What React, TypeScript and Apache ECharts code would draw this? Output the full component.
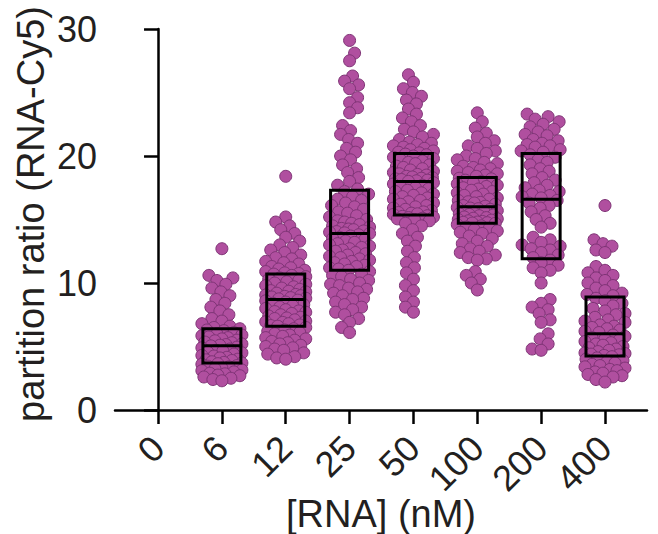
import React, { useEffect, useRef } from 'react';
import * as echarts from 'echarts';

const categories = ['0', '6', '12', '25', '50', '100', '200', '400'];
const yTicks = [0, 10, 20, 30];

const g0: number[] = [];
const g6 = [
  12.7, 10.6, 10.4, 10.2, 9.9, 9.6, 9.3, 9.0, 8.7, 8.4, 8.1, 7.8, 7.5, 7.2, 7.0, 6.8, 6.6, 6.5,
  6.4, 6.3, 6.25, 6.1, 6.0, 5.9, 5.85, 5.75, 5.7, 5.6, 5.5, 5.45, 5.35, 5.3, 5.2, 5.15, 5.1, 5.05,
  4.95, 4.9, 4.8, 4.7, 4.65, 4.55, 4.5, 4.4, 4.3, 4.25, 4.15, 4.1, 4.0, 3.95, 3.9, 3.8, 3.75, 3.7,
  3.65, 3.6, 3.5, 3.45, 3.4, 3.3, 3.25, 3.15, 3.1, 3.0, 2.9, 2.85, 2.75, 2.7, 2.6, 2.5, 2.4, 2.3,
];
const g12 = [
  18.4, 15.2, 14.8, 14.5, 14.2, 13.9, 13.6, 13.3, 13.0, 12.8, 12.6, 12.4, 12.2, 12.0, 11.9, 11.7, 11.6, 11.5, 11.3, 11.2, 11.1, 11.0, 10.9, 10.8, 10.75,
  10.7, 10.6, 10.5, 10.4, 10.3, 10.2, 10.1, 10.0, 9.9, 9.8, 9.7, 9.6, 9.5, 9.4, 9.35, 9.3, 9.2, 9.1, 9.05, 9.0, 8.95, 8.9, 8.85, 8.8, 8.75,
  8.65, 8.6, 8.5, 8.4, 8.3, 8.2, 8.1, 8.0, 7.9, 7.8, 7.75, 7.7, 7.6, 7.5, 7.4, 7.3, 7.25, 7.2, 7.1, 7.0, 6.95, 6.9, 6.8, 6.7, 6.65,
  6.6, 6.5, 6.4, 6.3, 6.2, 6.1, 6.0, 5.9, 5.8, 5.7, 5.6, 5.5, 5.4, 5.3, 5.2, 5.1, 5.0, 4.9, 4.8, 4.7, 4.5, 4.4, 4.2, 4.1, 4.0,
];
const g25 = [
  29.1, 28.1, 27.5, 26.3, 25.9, 25.6, 25.3, 24.6, 24.2, 23.8, 23.4, 22.4, 22.0, 21.7, 21.3, 21.0, 20.6, 20.3, 20.0, 19.7, 19.3, 19.0, 18.7, 18.3, 18.0, 17.7, 17.4,
  17.2, 17.0, 16.8, 16.6, 16.5, 16.3, 16.1, 16.0, 15.8, 15.6, 15.5, 15.3, 15.2, 15.0, 14.9, 14.8, 14.7, 14.6, 14.5, 14.4, 14.3, 14.25, 14.2, 14.1, 14.05, 14.0, 13.95, 13.9,
  13.8, 13.7, 13.6, 13.5, 13.4, 13.3, 13.2, 13.1, 13.0, 12.9, 12.8, 12.7, 12.6, 12.5, 12.4, 12.3, 12.2, 12.1, 12.0, 11.9, 11.8, 11.7, 11.6, 11.5, 11.4, 11.3, 11.2, 11.1,
  11.0, 10.9, 10.7, 10.6, 10.5, 10.3, 10.2, 10.0, 9.9, 9.8, 9.6, 9.5, 9.3, 9.2, 9.0, 8.8, 8.7, 8.5, 8.3, 8.1, 7.9, 7.7, 7.5, 7.2, 6.9, 6.5, 6.1,
];
const g50 = [
  26.4, 25.8, 25.3, 25.0, 24.7, 24.4, 24.1, 23.7, 23.3, 23.0, 22.7, 22.4, 22.1, 21.9, 21.7, 21.5, 21.3, 21.1, 21.0, 20.9, 20.8, 20.7, 20.6, 20.5, 20.4, 20.3, 20.25,
  20.15, 20.1, 20.0, 19.9, 19.8, 19.7, 19.6, 19.5, 19.4, 19.3, 19.2, 19.1, 19.0, 18.9, 18.8, 18.7, 18.6, 18.55, 18.5, 18.4, 18.35, 18.3, 18.25, 18.2, 18.15, 18.1, 18.05, 18.0,
  17.9, 17.8, 17.7, 17.6, 17.5, 17.4, 17.3, 17.2, 17.1, 17.0, 16.9, 16.8, 16.7, 16.6, 16.5, 16.4, 16.3, 16.2, 16.1, 16.0, 15.9, 15.8, 15.7, 15.6, 15.55, 15.5, 15.45, 15.4,
  15.3, 15.25, 15.2, 15.15, 15.1, 15.05, 15.0, 14.9, 14.7, 14.5, 14.2, 13.9, 13.6, 13.3, 12.9, 12.5, 12.0, 11.6, 11.2, 10.8, 10.3, 9.8, 9.4, 8.9, 8.5, 8.1, 7.7,
];
const g100 = [
  23.4, 22.7, 22.2, 21.8, 21.5, 21.2, 21.0, 20.8, 20.6, 20.4, 20.2, 20.0, 19.8, 19.7, 19.5, 19.4, 19.2, 19.1, 19.0, 18.9, 18.8, 18.7, 18.6, 18.5, 18.4,
  18.25, 18.2, 18.1, 18.0, 17.9, 17.8, 17.7, 17.6, 17.5, 17.4, 17.3, 17.2, 17.1, 17.0, 16.9, 16.8, 16.7, 16.6, 16.5, 16.4, 16.35, 16.3, 16.2, 16.1, 16.05,
  15.95, 15.9, 15.85, 15.8, 15.7, 15.65, 15.6, 15.5, 15.45, 15.4, 15.35, 15.3, 15.2, 15.15, 15.1, 15.05, 15.0, 14.95, 14.9, 14.85, 14.8, 14.78, 14.75, 14.72, 14.7,
  14.6, 14.5, 14.4, 14.3, 14.2, 14.1, 14.0, 13.9, 13.7, 13.5, 13.3, 13.1, 12.9, 12.7, 12.5, 12.4, 12.2, 12.0, 11.9, 11.8, 10.9, 10.6, 10.3, 10.0, 9.45,
];
const g200 = [
  23.3, 23.1, 22.9, 22.7, 22.5, 22.3, 22.1, 21.9, 21.7, 21.6, 21.3, 21.2, 21.0, 20.9, 20.8, 20.7, 20.5, 20.4, 20.3,
  20.1, 19.9, 19.7, 19.5, 19.3, 19.0, 18.8, 18.6, 18.3, 18.1, 17.9, 17.7, 17.5, 17.3, 17.2, 17.0, 16.9, 16.8, 16.7,
  16.5, 16.3, 16.1, 15.9, 15.6, 15.3, 15.0, 14.7, 14.4, 13.6, 13.4, 13.2, 13.0, 12.9, 12.7, 12.6, 12.4, 12.2, 12.0,
  11.8, 11.6, 11.4, 11.2, 11.0, 10.8, 10.0, 8.7, 8.4, 8.1, 7.9, 7.6, 7.1, 6.9, 6.0, 5.6, 5.2, 4.8, 4.7,
];
const g400 = [
  16.1, 13.4, 13.1, 12.9, 12.6, 12.4, 11.3, 11.0, 10.8, 10.6, 10.4, 10.2, 10.0, 9.8, 9.6, 9.4, 9.2, 9.1, 9.0,
  8.8, 8.6, 8.4, 8.2, 8.0, 7.8, 7.6, 7.5, 7.3, 7.1, 7.0, 6.9, 6.7, 6.6, 6.5, 6.4, 6.3, 6.2, 6.1,
  5.9, 5.8, 5.7, 5.6, 5.5, 5.4, 5.3, 5.2, 5.1, 5.0, 4.9, 4.8, 4.7, 4.6, 4.5, 4.45, 4.4, 4.35, 4.3,
  4.2, 4.1, 4.0, 3.9, 3.8, 3.7, 3.6, 3.5, 3.4, 3.3, 3.2, 3.1, 3.0, 2.9, 2.8, 2.7, 2.6, 2.4, 2.2,
];
const groups = [g0, g6, g12, g25, g50, g100, g200, g400];

const boxQ1 = [NaN, 3.7, 6.6, 11.0, 15.35, 14.7, 11.9, 4.25];
const boxMedian = [NaN, 5.05, 8.7, 13.9, 18.0, 16.0, 16.6, 6.0];
const boxQ3 = [NaN, 6.4, 10.7, 17.3, 20.2, 18.3, 20.2, 8.9];

// layout constants
const GRID = { left: 115, right: 11, top: 29, bottom: 124 };
const X_MIN = -0.674;
const X_MAX = 7.658;
const PX_PER_X = (658 - GRID.left - GRID.right) / (X_MAX - X_MIN);
const PX_PER_Y = (534 - GRID.top - GRID.bottom) / 30;

function swarm(values: number[], diam: number, cap: number): number[] {
  const order = values.map((_, i) => i).sort((a, b) => values[a] - values[b]);
  const placed: { x: number; y: number }[] = [];
  const out = new Array(values.length).fill(0);
  let flip = 1;
  for (const idx of order) {
    const y = values[idx] * PX_PER_Y;
    const near = placed.filter((p) => Math.abs(p.y - y) < diam);
    let best = 0;
    let bestScore = -1;
    let found = false;
    for (let k = 0; k <= cap && !found; k++) {
      const sides = k === 0 ? [1] : [flip, -flip];
      for (const s of sides) {
        const x = s * k;
        let md = Infinity;
        for (const p of near) {
          const d = Math.hypot(p.x - x, p.y - y);
          if (d < md) md = d;
        }
        if (md >= diam) {
          best = x;
          found = true;
          break;
        }
        if (md > bestScore) {
          bestScore = md;
          best = x;
        }
      }
    }
    flip = -flip;
    placed.push({ x: best, y });
    out[idx] = best / PX_PER_X;
  }
  return out;
}

const FONT = 'Liberation Sans, Arial, Helvetica, sans-serif';
const TEXT = '#231f20';

export default function App() {
  const ref = useRef<HTMLDivElement>(null);
  useEffect(() => {
    if (!ref.current) return;
    document.body.style.margin = '0';
    const chart = echarts.init(ref.current, undefined, { renderer: 'svg' });

    const points: number[][] = [];
    groups.forEach((vals, gi) => {
      const offs = swarm(vals, 9, 20);
      vals.forEach((v, i) => points.push([gi + offs[i], v]));
    });
    const boxes: number[][] = [];
    categories.forEach((_, i) => {
      if (!isNaN(boxQ1[i])) boxes.push([i, boxQ1[i], boxMedian[i], boxQ3[i]]);
    });
    const idx = categories.map((_, i) => i);

    chart.setOption({
      animation: false,
      grid: GRID,
      xAxis: {
        type: 'value',
        min: X_MIN,
        max: X_MAX,
        splitLine: { show: false },
        axisLine: { show: true, onZero: false, lineStyle: { color: '#000', width: 2.5 } },
        axisTick: { show: true, customValues: idx, length: 14, lineStyle: { color: '#000', width: 2.5 } },
        axisLabel: {
          customValues: idx,
          formatter: (v: number) => categories[Math.round(v)] ?? '',
          rotate: 45,
          fontSize: 36,
          fontFamily: FONT,
          color: TEXT,
          margin: 32,
        },
      },
      yAxis: {
        type: 'value',
        min: yTicks[0],
        max: yTicks[yTicks.length - 1],
        interval: 10,
        splitLine: { show: false },
        axisLine: { show: true, lineStyle: { color: '#000', width: 2.5 } },
        axisTick: { show: true, length: 14, lineStyle: { color: '#000', width: 2.5 } },
        axisLabel: { fontSize: 36, fontFamily: FONT, color: TEXT, margin: 18 },
      },
      graphic: [
        {
          type: 'text',
          x: 31,
          y: 214,
          rotation: Math.PI / 2,
          style: {
            text: 'partition ratio (RNA-Cy5)',
            fontSize: 38,
            fontFamily: FONT,
            fill: TEXT,
            textAlign: 'center',
            textVerticalAlign: 'middle',
          },
        },
        {
          type: 'text',
          x: 381,
          y: 514,
          style: {
            text: '[RNA] (nM)',
            fontSize: 38,
            fontFamily: FONT,
            fill: TEXT,
            textAlign: 'center',
            textVerticalAlign: 'middle',
          },
        },
      ],
      series: [
        {
          type: 'scatter',
          data: points,
          symbol: 'circle',
          symbolSize: 12,
          itemStyle: { color: '#b04f9f', borderColor: '#7f3476', borderWidth: 1, opacity: 1 },
          z: 2,
        },
        {
          type: 'custom',
          data: boxes,
          encode: { x: 0, y: [1, 2, 3] },
          z: 5,
          renderItem: (_params: any, api: any) => {
            const x = api.value(0);
            const top = api.coord([x, api.value(3)]);
            const bot = api.coord([x, api.value(1)]);
            const med = api.coord([x, api.value(2)]);
            const hw = 19;
            return {
              type: 'group',
              children: [
                {
                  type: 'rect',
                  shape: { x: top[0] - hw, y: top[1], width: hw * 2, height: bot[1] - top[1] },
                  style: { fill: 'none', stroke: '#000', lineWidth: 3 },
                },
                {
                  type: 'line',
                  shape: { x1: med[0] - hw, y1: med[1], x2: med[0] + hw, y2: med[1] },
                  style: { stroke: '#000', lineWidth: 3 },
                },
              ],
            };
          },
        },
      ],
    });
    return () => chart.dispose();
  }, []);
  return <div ref={ref} style={{ width: 658, height: 534 }} />;
}
